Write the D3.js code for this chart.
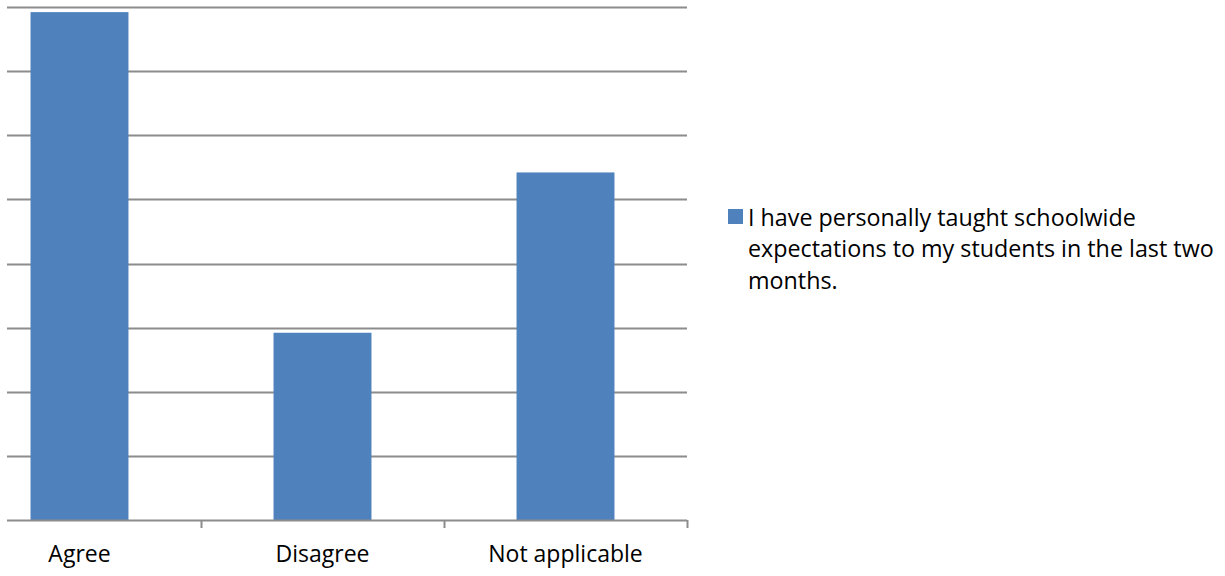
<!DOCTYPE html>
<html>
<head>
<meta charset="utf-8">
<script src="https://cdn.jsdelivr.net/npm/d3@7"></script>
<style>
  html, body { margin: 0; padding: 0; background: #ffffff; }
  svg { display: block; }
  text { font-family: "Open Sans", "Liberation Sans", sans-serif; fill: #000; }
</style>
</head>
<body>
<svg id="chart" width="1225" height="576"></svg>
<script>
// ---- data ----
const categories = ["Agree", "Disagree", "Not applicable"];
const values = [39.6, 14.6, 27.1];
const yTicks = [0, 5, 10, 15, 20, 25, 30, 35, 40];
const seriesName = ["I have personally taught schoolwide", "expectations to my students in the last two", "months."];

// ---- layout ----
const svg = d3.select("#chart");
const plotLeft = -42, plotRight = 687, plotTop = 7, plotBottom = 520;
const gridLeft = 7;
const barColor = "#4f81bd";
const gridColor = "#8c8c8c";

const x = d3.scaleBand()
  .domain(categories)
  .range([plotLeft, plotRight])
  .paddingInner(0.597)
  .paddingOuter(0.2985);

const y = d3.scaleLinear()
  .domain([0, 40])
  .range([plotBottom, plotTop]);

// gridlines
svg.append("g")
  .selectAll("line")
  .data(yTicks.filter(d => d > 0))
  .join("line")
  .attr("x1", gridLeft)
  .attr("x2", plotRight)
  .attr("y1", d => Math.round(y(d)) + 0.5)
  .attr("y2", d => Math.round(y(d)) + 0.5)
  .attr("stroke", gridColor)
  .attr("stroke-width", 2);

// bars
svg.append("g")
  .selectAll("rect")
  .data(values)
  .join("rect")
  .attr("x", (d, i) => x(categories[i]))
  .attr("width", x.bandwidth())
  .attr("y", d => y(d))
  .attr("height", d => y(0) - y(d))
  .attr("fill", barColor);

// x axis line
svg.append("line")
  .attr("x1", gridLeft).attr("x2", plotRight)
  .attr("y1", plotBottom + 0.5).attr("y2", plotBottom + 0.5)
  .attr("stroke", gridColor).attr("stroke-width", 2);

// category boundary ticks
const boundaries = categories.map(c => x(c) + x.bandwidth() / 2 + x.step() / 2);
svg.append("g")
  .selectAll("line")
  .data(boundaries)
  .join("line")
  .attr("x1", d => Math.round(d) + 0.5)
  .attr("x2", d => Math.round(d) + 0.5)
  .attr("y1", plotBottom)
  .attr("y2", plotBottom + 8)
  .attr("stroke", gridColor)
  .attr("stroke-width", 2);

// category labels
svg.append("g")
  .selectAll("text")
  .data(categories)
  .join("text")
  .attr("x", d => x(d) + x.bandwidth() / 2)
  .attr("y", 562)
  .attr("text-anchor", "middle")
  .attr("font-size", 23)
  .text(d => d);

// legend
const lg = svg.append("g");
lg.append("rect")
  .attr("x", 728).attr("y", 209)
  .attr("width", 15).attr("height", 15)
  .attr("fill", barColor);
lg.selectAll("text")
  .data(seriesName)
  .join("text")
  .attr("x", 748)
  .attr("y", (d, i) => 225.5 + i * 31.8)
  .attr("font-size", 23.3)
  .text(d => d);
</script>
</body>
</html>
